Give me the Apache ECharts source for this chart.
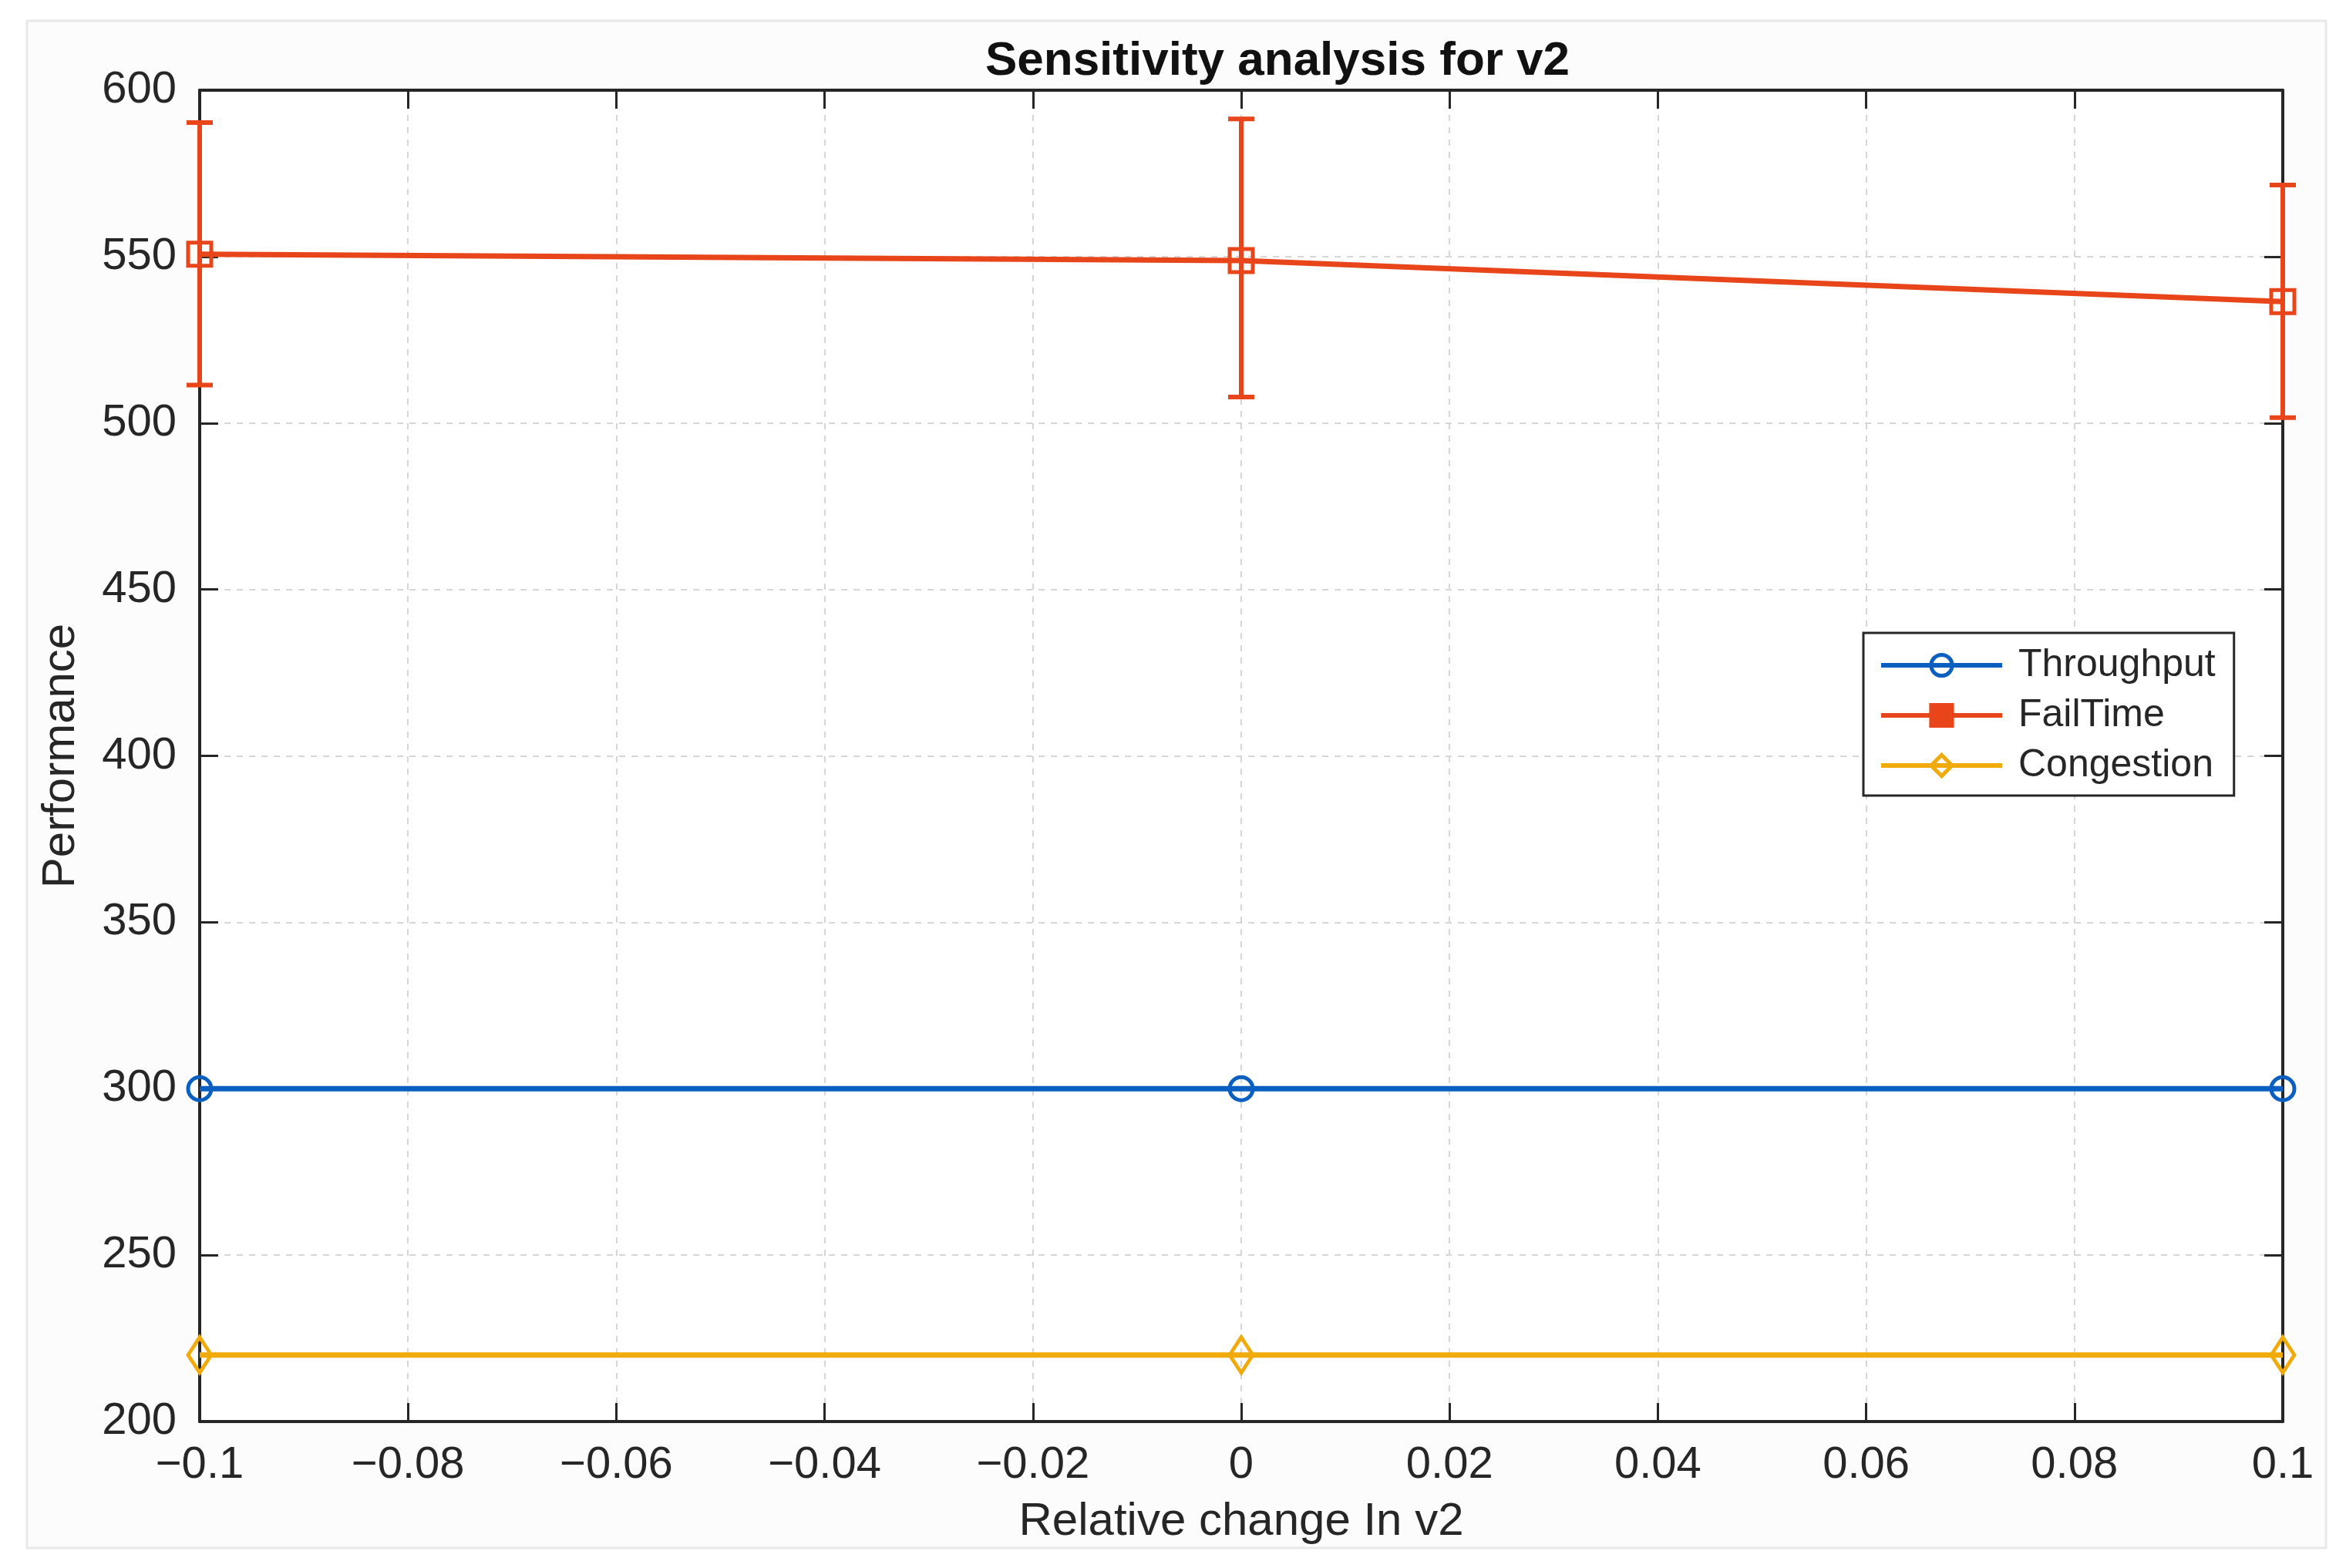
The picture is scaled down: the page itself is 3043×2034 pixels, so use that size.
<!DOCTYPE html>
<html>
<head>
<meta charset="UTF-8">
<title>Sensitivity analysis for v2</title>
<script src="https://cdn.jsdelivr.net/npm/echarts@6/dist/echarts.min.js"></script>
<style>
  html, body { margin: 0; padding: 0; background: #fff; }
  #main { width: 3043px; height: 2034px; }
</style>
</head>
<body>
<div id="main"></div>
<script>
// data
var xValues = [-0.1, 0, 0.1];
var throughput = [300, 300, 300];
var failTime = [550.7, 548.8, 536.5];
var failLow = [511.4, 507.8, 501.6];
var failHigh = [590.3, 591.4, 571.5];
var congestion = [220, 220, 220];

var seriesNames = ['Throughput', 'FailTime', 'Congestion'];
var colors = ['#0b5fc1', '#e8461a', '#f0aa0a'];

var FONT = '"Liberation Sans", Arial, sans-serif';
var TXT = '#262626';
var HOLLOW = 'rgba(255,255,255,0)';

function pairs(ys) {
  return xValues.map(function (x, i) { return [x, ys[i]]; });
}

var errData = xValues.map(function (x, i) { return [x, failLow[i], failHigh[i]]; });

function tickFmt(v) {
  var s = String(Math.round(v * 100) / 100);
  return s.replace('-', '\u2212');
}

var chart = echarts.init(document.getElementById('main'));

var option = {
  backgroundColor: '#ffffff',
  animation: false,
  graphic: [{
    type: 'rect',
    z: -10,
    shape: { x: 35, y: 27, width: 2982, height: 1981 },
    style: { fill: '#fcfcfc', stroke: '#e8e8e8', lineWidth: 3 }
  }],
  title: {
    text: 'Sensitivity analysis for v2',
    left: 1657,
    top: 49,
    textAlign: 'center',
    padding: 0,
    textStyle: { fontFamily: FONT, fontSize: 62, fontWeight: 'bold', color: '#111' }
  },
  legend: {
    orient: 'vertical',
    left: 2417,
    top: 821,
    padding: [17, 24, 14, 20],
    itemGap: 15,
    itemWidth: 157,
    itemHeight: 34,
    backgroundColor: '#ffffff',
    borderColor: '#262626',
    borderWidth: 3,
    lineStyle: { width: 6 },
    itemStyle: { borderWidth: 5 },
    data: [
      { name: seriesNames[0] },
      { name: seriesNames[1], itemStyle: { color: colors[1] } },
      { name: seriesNames[2] }
    ],
    textStyle: { fontFamily: FONT, fontSize: 50, color: TXT, lineHeight: 50, padding: [0, 0, 0, 16] }
  },
  grid: {
    left: 259, right: 82, top: 117, bottom: 190,
    show: true, backgroundColor: '#ffffff', borderWidth: 0
  },
  xAxis: [{
    type: 'value',
    min: -0.1, max: 0.1, interval: 0.02,
    name: 'Relative change In v2',
    nameLocation: 'middle',
    nameGap: 100,
    nameTextStyle: { fontFamily: FONT, fontSize: 60, color: TXT },
    axisLine: { onZero: false, lineStyle: { color: '#262626', width: 4 } },
    axisTick: { inside: true, length: 24, lineStyle: { color: '#262626', width: 3 } },
    axisLabel: { margin: 28, fontFamily: FONT, fontSize: 58, color: TXT, formatter: tickFmt },
    splitLine: { show: true, lineStyle: { color: '#d6d6d6', width: 2, type: [8, 8] } }
  }, {
    type: 'value',
    position: 'top',
    min: -0.1, max: 0.1, interval: 0.02,
    axisLine: { onZero: false, lineStyle: { color: '#262626', width: 4 } },
    axisTick: { inside: true, length: 24, lineStyle: { color: '#262626', width: 3 } },
    axisLabel: { show: false },
    splitLine: { show: false }
  }],
  yAxis: [{
    type: 'value',
    min: 200, max: 600, interval: 50,
    name: 'Performance',
    nameLocation: 'middle',
    nameGap: 150,
    nameTextStyle: { fontFamily: FONT, fontSize: 60, color: TXT },
    axisLine: { onZero: false, lineStyle: { color: '#262626', width: 4 } },
    axisTick: { inside: true, length: 24, lineStyle: { color: '#262626', width: 3 } },
    axisLabel: { margin: 30, fontFamily: FONT, fontSize: 58, color: TXT, padding: [6, 0, 0, 0] },
    splitLine: { show: true, lineStyle: { color: '#d6d6d6', width: 2, type: [8, 8] } }
  }, {
    type: 'value',
    position: 'right',
    min: 200, max: 600, interval: 50,
    axisLine: { onZero: false, lineStyle: { color: '#262626', width: 4 } },
    axisTick: { inside: true, length: 24, lineStyle: { color: '#262626', width: 3 } },
    axisLabel: { show: false },
    splitLine: { show: false }
  }],
  series: [{
    name: 'Throughput',
    type: 'line',
    data: pairs(throughput),
    symbol: 'circle',
    symbolSize: 30,
    lineStyle: { width: 7, color: colors[0] },
    itemStyle: { color: HOLLOW, borderColor: colors[0], borderWidth: 5 },
    z: 3
  }, {
    name: 'FailTime',
    type: 'line',
    data: pairs(failTime),
    symbol: 'rect',
    symbolSize: 30,
    lineStyle: { width: 7, color: colors[1] },
    itemStyle: { color: HOLLOW, borderColor: colors[1], borderWidth: 5 },
    z: 4
  }, {
    name: 'FailTime',
    type: 'custom',
    data: errData,
    z: 3,
    renderItem: function (params, api) {
      var x = api.value(0);
      var lo = api.coord([x, api.value(1)]);
      var hi = api.coord([x, api.value(2)]);
      var half = 17;
      var st = { stroke: colors[1], lineWidth: 6 };
      return {
        type: 'group',
        children: [
          { type: 'line', shape: { x1: lo[0], y1: lo[1], x2: hi[0], y2: hi[1] }, style: st },
          { type: 'line', shape: { x1: hi[0] - half, y1: hi[1], x2: hi[0] + half, y2: hi[1] }, style: st },
          { type: 'line', shape: { x1: lo[0] - half, y1: lo[1], x2: lo[0] + half, y2: lo[1] }, style: st }
        ]
      };
    }
  }, {
    name: 'Congestion',
    type: 'line',
    data: pairs(congestion),
    symbol: 'diamond',
    symbolSize: [30, 46],
    lineStyle: { width: 7, color: colors[2] },
    itemStyle: { color: HOLLOW, borderColor: colors[2], borderWidth: 5 },
    z: 3
  }]
};

chart.setOption(option);
</script>
</body>
</html>
